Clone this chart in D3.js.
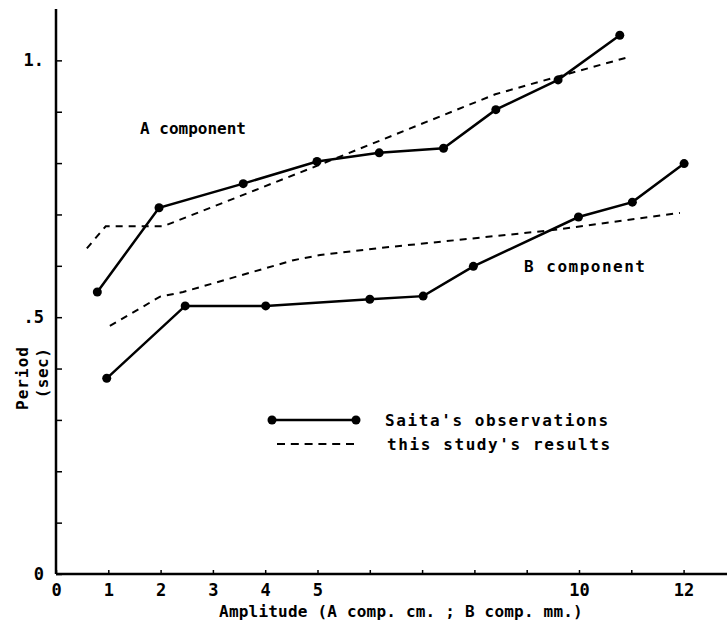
<!DOCTYPE html>
<html>
<head>
<meta charset="utf-8">
<script src="https://cdn.jsdelivr.net/npm/d3@7"></script>
<style>
  body { margin: 0; background: #fff; }
  svg text { font-family: "DejaVu Sans Mono", monospace; font-weight: bold; fill: #000; }
</style>
</head>
<body>
<div id="vis"></div>
<script>
// Saita's observations (solid with dots)
var aObsX = [0.79, 1.97, 3.58, 4.99, 6.18, 7.41, 8.41, 9.60, 10.78];
var aObsY = [0.549, 0.713, 0.760, 0.803, 0.820, 0.829, 0.904, 0.962, 1.049];
var bObsX = [0.97, 2.47, 4.01, 6.00, 7.02, 7.98, 9.99, 11.02, 12.01];
var bObsY = [0.381, 0.522, 0.522, 0.535, 0.541, 0.599, 0.695, 0.724, 0.799];

// this study's results (dashed)
var aCalcX = [0.59, 0.95, 2.05, 5.0, 8.4, 9.3, 10.9];
var aCalcY = [0.634, 0.677, 0.677, 0.795, 0.934, 0.960, 1.005];
var bCalcX = [1.03, 1.99, 2.43, 4.54, 5.05, 6.13, 9.45, 11.93];
var bCalcY = [0.483, 0.540, 0.549, 0.611, 0.621, 0.634, 0.669, 0.703];

var xTicks = [0, 1, 2, 3, 4, 5, 6, 7, 8, 9, 10, 11, 12];
var xTickLabels = {0: "0", 1: "1", 2: "2", 3: "3", 4: "4", 5: "5", 10: "10", 12: "12"};
var yTicks = [0, 0.1, 0.2, 0.3, 0.4, 0.5, 0.6, 0.7, 0.8, 0.9, 1.0];
var yTickLabels = {"0": "0", "0.5": ".5", "1": "1."};

var width = 727, height = 633;
var svg = d3.select("#vis").append("svg").attr("width", width).attr("height", height);

var x = d3.scaleLinear().domain([0, 12.83]).range([56, 727]);
var y = d3.scaleLinear().domain([0, 1.1]).range([574, 9]);

function zip(xs, ys){
  return xs.map(function(v, i){ return {x: v, y: ys[i]}; });
}

// axes
var xAxis = d3.axisBottom(x).tickValues(xTicks).tickSize(-4).tickPadding(10)
  .tickFormat(function(d){ return xTickLabels[d] || ""; });
var gx = svg.append("g").attr("transform", "translate(0," + y(0) + ")").call(xAxis);
gx.select(".domain").attr("d", "M" + x(0) + ",0H" + width).attr("stroke-width", 2.5);
gx.selectAll(".tick line").attr("stroke-width", 1.5);
gx.selectAll("text").style("font-size", "17px").style("font-family", "DejaVu Sans Mono").style("font-weight", "bold");

var yAxis = d3.axisLeft(y).tickValues(yTicks).tickSize(-6).tickPadding(12)
  .tickFormat(function(d){ return yTickLabels[String(+d.toFixed(1))] || ""; });
var gy = svg.append("g").attr("transform", "translate(" + x(0) + ",0)").call(yAxis);
gy.select(".domain").attr("d", "M0," + y(0) + "V" + y(1.1)).attr("stroke-width", 2.5);
gy.selectAll(".tick line").attr("stroke-width", 1.5);
gy.selectAll("text").style("font-size", "17px").style("font-family", "DejaVu Sans Mono").style("font-weight", "bold");

// axis titles
svg.append("text").attr("x", 401).attr("y", 617).attr("text-anchor", "middle")
  .style("font-size", "16px").style("letter-spacing", "0.2px")
  .text("Amplitude (A comp. cm. ; B comp. mm.)");
svg.append("text").attr("transform", "translate(28,378) rotate(-90)").attr("text-anchor", "middle")
  .style("font-size", "16px").style("letter-spacing", "1px").text("Period");
svg.append("text").attr("transform", "translate(48,373) rotate(-90)").attr("text-anchor", "middle")
  .style("font-size", "16px").style("letter-spacing", "0.5px").text("(sec)");

var line = d3.line().x(function(d){ return x(d.x); }).y(function(d){ return y(d.y); });

// dashed calculated curves
[zip(aCalcX, aCalcY), zip(bCalcX, bCalcY)].forEach(function(data){
  svg.append("path").datum(data).attr("d", line)
    .attr("fill", "none").attr("stroke", "#000").attr("stroke-width", 2)
    .attr("stroke-dasharray", "7,6");
});

// solid observed curves
[zip(aObsX, aObsY), zip(bObsX, bObsY)].forEach(function(data){
  svg.append("path").datum(data).attr("d", line)
    .attr("fill", "none").attr("stroke", "#000").attr("stroke-width", 2.5);
  svg.selectAll(null).data(data).enter().append("circle")
    .attr("cx", function(d){ return x(d.x); })
    .attr("cy", function(d){ return y(d.y); })
    .attr("r", 4.5).attr("fill", "#000");
});

// labels
svg.append("text").attr("x", 140).attr("y", 134)
  .style("font-size", "16px").text("A component");
svg.append("text").attr("x", 524).attr("y", 272)
  .style("font-size", "16px").style("letter-spacing", "1.5px").text("B component");

// legend
svg.append("line").attr("x1", 272).attr("x2", 356).attr("y1", 420).attr("y2", 420)
  .attr("stroke", "#000").attr("stroke-width", 2.5);
svg.selectAll(null).data([272, 356]).enter().append("circle")
  .attr("cx", function(d){ return d; }).attr("cy", 420).attr("r", 4.5).attr("fill", "#000");
svg.append("line").attr("x1", 277).attr("x2", 354).attr("y1", 444).attr("y2", 444)
  .attr("stroke", "#000").attr("stroke-width", 2).attr("stroke-dasharray", "8,5.8");
svg.append("text").attr("x", 385).attr("y", 426)
  .style("font-size", "16px").style("letter-spacing", "1.6px").text("Saita's observations");
svg.append("text").attr("x", 387).attr("y", 450)
  .style("font-size", "16px").style("letter-spacing", "1.6px").text("this study's results");
</script>
</body>
</html>
